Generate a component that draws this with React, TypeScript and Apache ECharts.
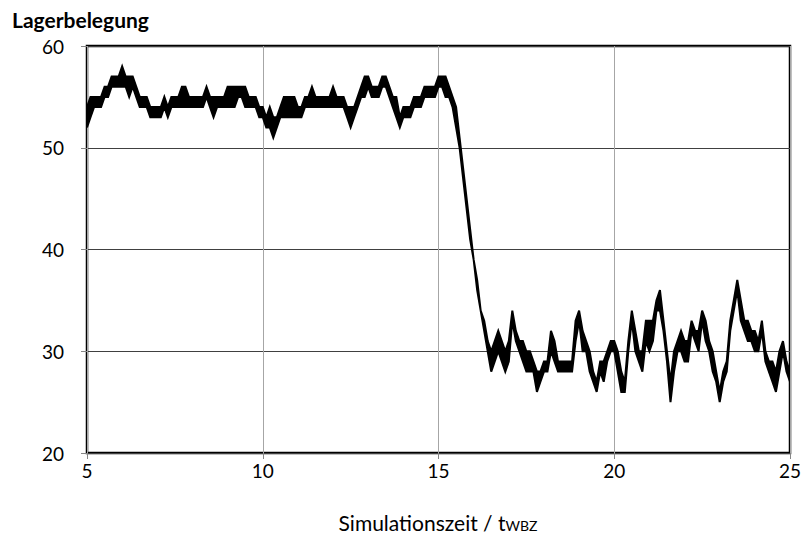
import React, { useEffect, useRef } from "react";
import * as echarts from "echarts";

// Sampling grid of the simulation time axis (t = 5.0 ... 25.0, every 0.1)
const T_START = 5;
const T_STEP = 0.1;

// Lower / upper envelope of the "Lagerbelegung" trace
const lower = [
  52, 53, 54, 54, 54, 55, 55, 56, 56, 56,
  56, 56, 55, 56, 55, 54, 54, 54, 53, 53,
  53, 53, 54, 53, 54, 54, 54, 54, 54, 54,
  54, 54, 54, 54, 55, 54, 53, 54, 54, 54,
  54, 54, 54, 55, 55, 54, 54, 54, 54, 53,
  53, 52, 52, 51, 52, 53, 53, 53, 53, 53,
  53, 53, 54, 54, 54, 54, 54, 54, 54, 54,
  54, 54, 54, 54, 53, 52, 53, 54, 55, 55,
  56, 55, 55, 55, 56, 56, 55, 54, 53, 52,
  53, 53, 53, 54, 54, 54, 55, 55, 55, 55,
  56, 56, 55, 55, 54, 52, 50, 47, 44, 41,
  39, 36, 34, 32, 30, 28, 29, 30, 29, 28,
  29, 33, 31, 30, 29, 28, 28, 28, 26, 27,
  28, 28, 30, 29, 28, 28, 28, 28, 28, 31,
  33, 30, 30, 28, 27, 26, 28, 27, 29, 30,
  30, 28, 26, 26, 30, 33, 30, 29, 28, 31,
  30, 31, 34, 34, 32, 29, 25, 28, 30, 30,
  29, 29, 32, 31, 30, 33, 31, 30, 28, 27,
  25, 27, 28, 32, 34, 36, 33, 32, 31, 31,
  30, 30, 32, 29, 28, 27, 26, 28, 30, 28,
  27,
];
const upper = [
  54, 55, 55, 55, 55, 56, 56, 57, 57, 57,
  58, 57, 57, 57, 56, 55, 55, 55, 54, 54,
  54, 54, 55, 54, 55, 55, 55, 56, 56, 55,
  55, 55, 55, 55, 56, 55, 55, 55, 55, 55,
  56, 56, 56, 56, 56, 56, 55, 55, 55, 54,
  54, 53, 54, 53, 53, 54, 55, 55, 55, 55,
  54, 54, 55, 55, 56, 55, 55, 55, 55, 55,
  56, 55, 55, 55, 54, 54, 54, 55, 56, 57,
  57, 56, 56, 56, 57, 57, 56, 55, 55, 53,
  54, 54, 54, 55, 55, 55, 56, 56, 56, 56,
  57, 57, 57, 56, 55, 54, 51, 48, 45, 42,
  39, 37, 34, 33, 31, 30, 31, 32, 31, 30,
  31, 34, 32, 31, 31, 30, 30, 29, 28, 28,
  29, 29, 32, 31, 29, 29, 29, 29, 29, 33,
  34, 32, 31, 30, 28, 27, 29, 29, 30, 31,
  31, 30, 28, 27, 31, 34, 32, 30, 30, 33,
  33, 33, 35, 36, 33, 30, 27, 30, 31, 32,
  31, 31, 33, 32, 32, 34, 33, 31, 30, 28,
  26, 28, 29, 33, 35, 37, 35, 33, 33, 32,
  32, 31, 33, 30, 29, 29, 28, 30, 31, 29,
  28,
];

const X_MIN = 5, X_MAX = 25, X_STEP = 5;
const Y_MIN = 20, Y_MAX = 60, Y_STEP = 10;
const Y_TITLE = "Lagerbelegung";
const X_TITLE_MAIN = "Simulationszeit / t";
const X_TITLE_SUB = "WBZ";

const FONT = "Lato, 'Open Sans', 'DejaVu Sans', sans-serif";

export default function App() {
  const ref = useRef<HTMLDivElement>(null);

  useEffect(() => {
    document.body.style.margin = "0";
    if (!ref.current) return;
    const chart = echarts.init(ref.current, undefined, { renderer: "svg" });

    const times = lower.map((_, i) => Math.round((T_START + i * T_STEP) * 100) / 100);
    const bandData = times.map((t, i) => [t, lower[i], upper[i]]);

    chart.setOption({
      animation: false,
      backgroundColor: "#fff",
      grid: {
        left: 87,
        right: 15,
        top: 46,
        bottom: 90,
        show: true,
        borderColor: "#000",
        borderWidth: 2.5,
        backgroundColor: "transparent",
      },
      xAxis: {
        type: "value",
        min: X_MIN,
        max: X_MAX,
        interval: X_STEP,
        axisLine: { show: false },
        axisTick: { show: true, length: 6, lineStyle: { color: "#868686" } },
        axisLabel: { margin: 8, color: "#000", fontFamily: FONT, fontSize: 19 },
        splitLine: { show: true, lineStyle: { color: "#a6a6a6", width: 1 } },
      },
      yAxis: {
        type: "value",
        min: Y_MIN,
        max: Y_MAX,
        interval: Y_STEP,
        axisLine: { show: false },
        axisTick: { show: true, length: 6, lineStyle: { color: "#868686" } },
        axisLabel: { margin: 23, color: "#000", fontFamily: FONT, fontSize: 19 },
        splitLine: { show: true, lineStyle: { color: "#404040", width: 1 } },
      },
      graphic: [
        {
          type: "text",
          left: 12,
          top: 9,
          style: { text: Y_TITLE, fill: "#000", font: `bold 21px ${FONT}` },
        },
        {
          type: "text",
          x: 438,
          y: 522,
          style: {
            text: `{a|${X_TITLE_MAIN}}{b|${X_TITLE_SUB}}`,
            align: "center",
            verticalAlign: "middle",
            rich: {
              a: { fontFamily: FONT, fontSize: 21, fill: "#000", color: "#000" },
              b: { fontFamily: FONT, fontSize: 14, fill: "#000", color: "#000", padding: [6, 0, 0, 0] },
            },
          },
        },
      ],
      series: [
        {
          type: "custom",
          name: "Lagerbelegung",
          data: bandData,
          clip: true,
          encode: { x: 0, y: [1, 2] },
          renderItem: (params: any, api: any) => {
            if (params.dataIndex !== 0) return null;
            const top: number[][] = [];
            const bottom: number[][] = [];
            for (let i = 0; i < bandData.length; i++) {
              top.push(api.coord([bandData[i][0], bandData[i][2]]));
              bottom.push(api.coord([bandData[i][0], bandData[i][1]]));
            }
            const points = top.concat(bottom.reverse());
            return {
              type: "polygon",
              shape: { points },
              style: {
                fill: "#000",
                stroke: "#000",
                lineWidth: 2,
                lineJoin: "miter",
              },
            };
          },
          z: 3,
        },
      ],
    });

    return () => chart.dispose();
  }, []);

  return <div ref={ref} style={{ width: 805, height: 543 }} />;
}
